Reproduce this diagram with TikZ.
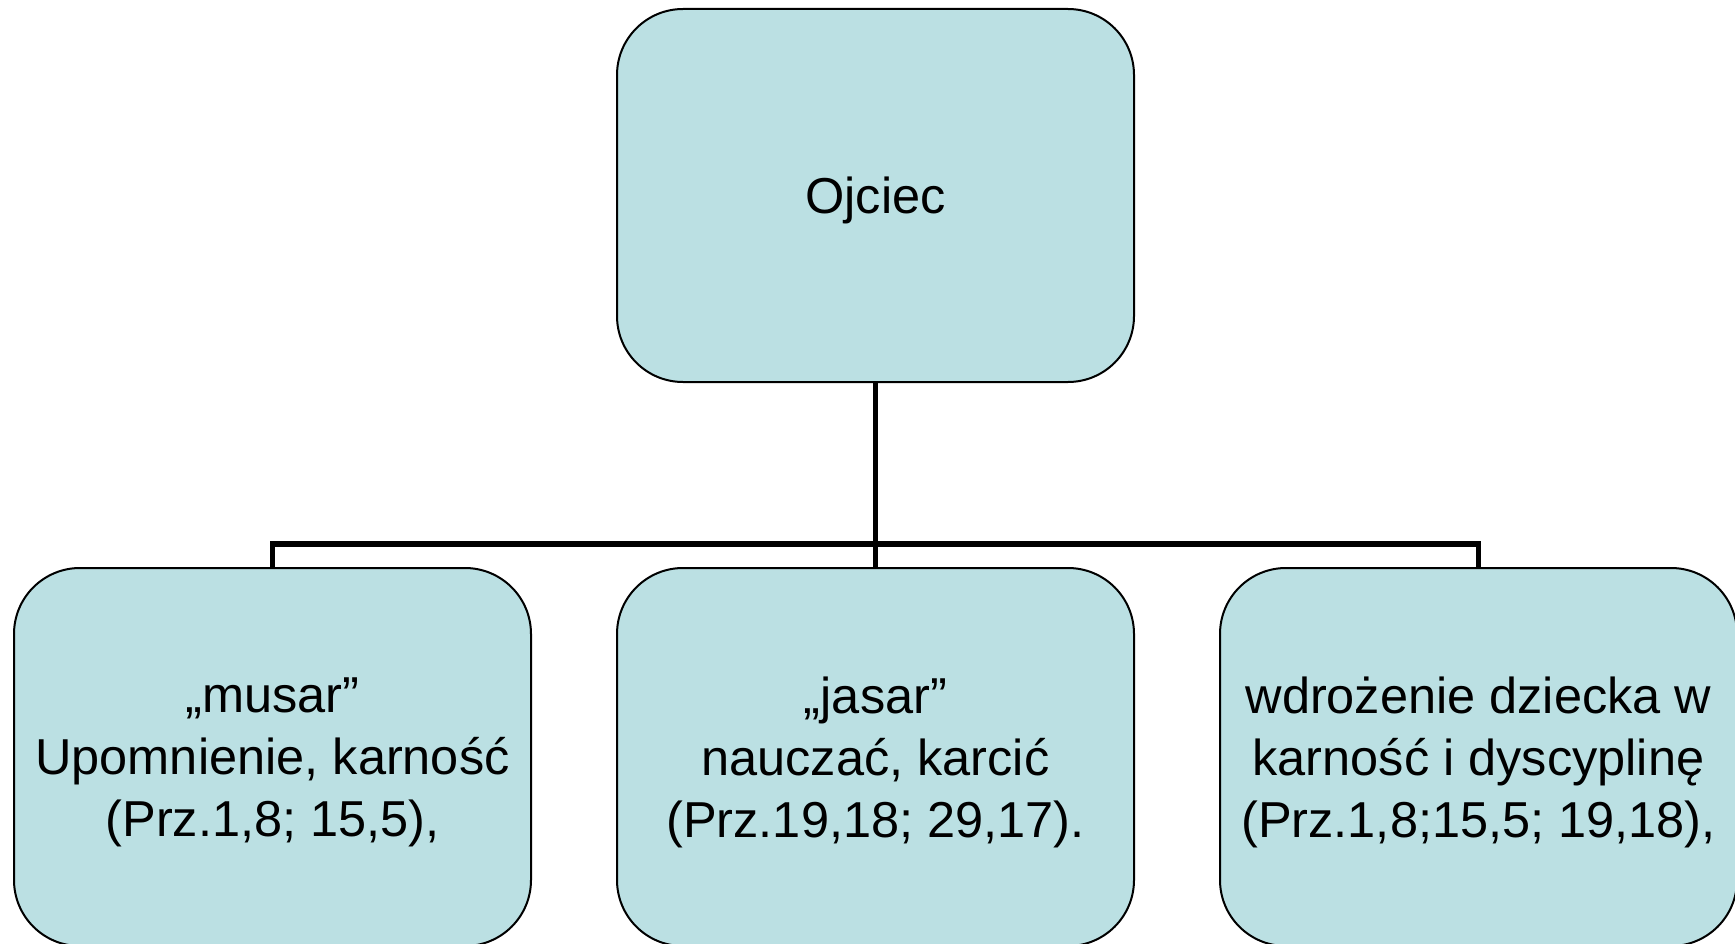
\documentclass[tikz,border=0pt]{standalone}
\usepackage{fontspec}
\setmainfont{Liberation Sans}
\definecolor{boxfill}{HTML}{BBE0E3}
\begin{document}
\begin{tikzpicture}[x=1pt,y=-1pt,
  orgbox/.style={draw=black, line width=2pt, fill=boxfill, rounded corners=66pt,
    minimum width=517pt, minimum height=#1, inner sep=0pt},
  orgbox/.default=373pt,
  boxtext/.style={align=center, inner sep=0pt, font=\fontsize{50.5}{62}\selectfont},
  conn/.style={draw=black, line width=5.5pt}]
\useasboundingbox (0,0) rectangle (1735,944);
\node[orgbox] (top) at (875.5,195.5) {};
\node[orgbox=378pt] (b1) at (272.5,757) {};
\node[orgbox=378pt] (b2) at (875.5,757) {};
\node[orgbox=378pt] (b3) at (1478.5,757) {};
\node[boxtext] (ttop) at ([yshift=-5pt]top.center) {Ojciec};
\node[boxtext] (t1) at ([yshift=-5pt]b1.center) {„musar”\\Upomnienie, karność\\(Prz.1,8; 15,5),};
\node[boxtext] (t2) at ([yshift=-5pt]b2.center) {„jasar”\\nauczać, karcić\\(Prz.19,18; 29,17).};
\node[boxtext] (t3) at ([yshift=-5pt]b3.center) {wdrożenie dziecka w\\karność i dyscyplinę\\(Prz.1,8;15,5; 19,18),};
\coordinate (j) at (875.5,544);
\draw[conn] (top.south) -- (j);
\draw[conn] (j) -- (b2.north);
\draw[conn] (b1.north) |- (j);
\draw[conn] (j) -| (b3.north);
\end{tikzpicture}
\end{document}
